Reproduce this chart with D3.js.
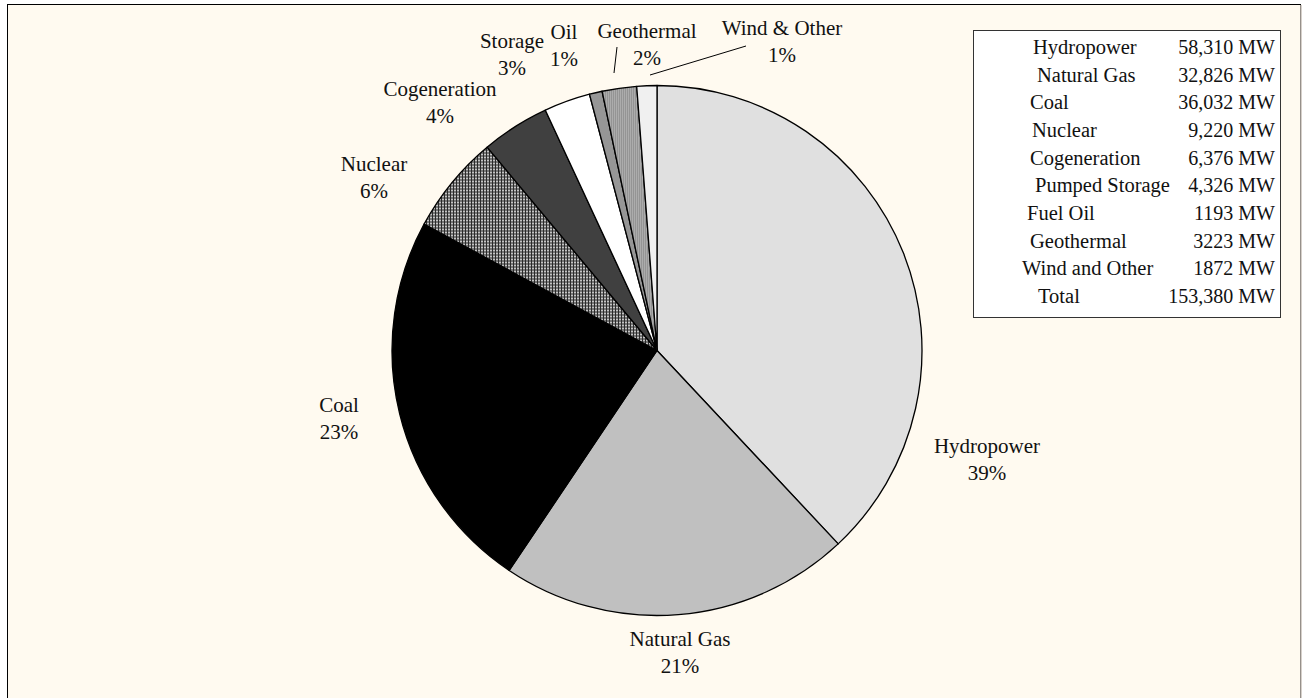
<!DOCTYPE html>
<html>
<head>
<meta charset="utf-8">
<script src="https://cdn.jsdelivr.net/npm/d3@7"></script>
<style>
  html, body { margin: 0; padding: 0; background: #ffffff; }
  svg { display: block; }
  text { font-family: "Liberation Serif", "Times New Roman", serif; fill: #111; }
</style>
</head>
<body>
<svg id="chart" width="1302" height="698"></svg>
<script>
// ---- data ----
const categories = ["Hydropower", "Natural Gas", "Coal", "Nuclear", "Cogeneration",
                    "Pumped Storage", "Fuel Oil", "Geothermal", "Wind and Other"];
const capacityMW = [58310, 32826, 36032, 9220, 6376, 4326, 1193, 3223, 1872];
const sliceLabels = ["Hydropower", "Natural Gas", "Coal", "Nuclear", "Cogeneration",
                     "Storage", "Oil", "Geothermal", "Wind & Other"];
const percentLabels = ["39%", "21%", "23%", "6%", "4%", "3%", "1%", "2%", "1%"];
const legendValueLabels = ["58,310 MW", "32,826 MW", "36,032 MW", "9,220 MW", "6,376 MW",
                           "4,326 MW", "1193 MW", "3223 MW", "1872 MW"];
const totalLabel = "Total";
const totalValueLabel = "153,380 MW";

// ---- styles / layout ----
const fills = ["#e0e0e0", "#c0c0c0", "#000000", "url(#crosshatch)", "#404040",
               "#ffffff", "#969696", "url(#dots)", "#f0f0f0"];
const cx = 657, cy = 350.5, radius = 265;
// label anchor offsets from pie centre: [dx, dy of first baseline]
const labelOffsets = [[330, 102.5], [23, 295.5], [-318, 61.5], [-283, -179.5], [-217, -254.5],
                      [-145, -302.5], [-93, -311.5], [-10, -312.5], [125, -315.5]];
// leader lines (offsets from centre) for geothermal and wind
const leaders = [
  {i: 7, from: [-40, -303.5], to: [-43, -277.5]},
  {i: 8, from: [89, -304.5], to: [-7, -275.5]}
];
// small indents of the legend name column (as in the source table)
const legendNameX = [1033, 1037, 1030, 1032, 1030, 1035, 1027, 1030, 1022, 1038];

const svg = d3.select("#chart");
const defs = svg.append("defs");
const ch = defs.append("pattern").attr("id", "crosshatch").attr("patternUnits", "userSpaceOnUse")
  .attr("width", 3).attr("height", 3);
ch.append("rect").attr("width", 3).attr("height", 3).attr("fill", "#c4c4c4");
ch.append("rect").attr("width", 1).attr("height", 3).attr("fill", "#2a2a2a");
ch.append("rect").attr("width", 3).attr("height", 1).attr("fill", "#2a2a2a");
const dp = defs.append("pattern").attr("id", "dots").attr("patternUnits", "userSpaceOnUse")
  .attr("width", 2).attr("height", 2);
dp.append("rect").attr("width", 2).attr("height", 2).attr("fill", "#acacac");
dp.append("rect").attr("width", 1).attr("height", 1).attr("fill", "#7c7c7c");

// chart area background + frame
svg.append("rect").attr("x", 7.5).attr("y", 4.5).attr("width", 1293).attr("height", 700)
  .attr("fill", "#fffaf0").attr("stroke", "#000").attr("stroke-width", 1);
svg.append("line").attr("x1", 1301).attr("x2", 1301).attr("y1", 5).attr("y2", 698)
  .attr("stroke", "#c8c0b8").attr("stroke-width", 1.5);

// pie
const pie = d3.pie().sort(null).value(d => d).startAngle(0).endAngle(2 * Math.PI);
const arc = d3.arc().innerRadius(0).outerRadius(radius);
const arcs = pie(capacityMW);
const g = svg.append("g").attr("transform", `translate(${cx},${cy})`);
g.selectAll("path.slice").data(arcs).enter().append("path")
  .attr("class", "slice")
  .attr("d", arc)
  .attr("fill", (d, i) => fills[i])
  .attr("stroke", "#000")
  .attr("stroke-width", 1.3)
  .attr("stroke-linejoin", "round");

// slice labels
const lg = g.selectAll("g.lbl").data(arcs).enter().append("g").attr("class", "lbl")
  .attr("transform", (d, i) => `translate(${labelOffsets[i][0]},${labelOffsets[i][1]})`);
lg.append("text").attr("text-anchor", "middle").attr("font-size", 21)
  .text((d, i) => sliceLabels[i]);
lg.append("text").attr("text-anchor", "middle").attr("font-size", 21).attr("y", 26.5)
  .text((d, i) => percentLabels[i]);

// leader lines
g.selectAll("line.leader").data(leaders).enter().append("line")
  .attr("class", "leader")
  .attr("x1", d => d.from[0]).attr("y1", d => d.from[1])
  .attr("x2", d => d.to[0]).attr("y2", d => d.to[1])
  .attr("stroke", "#000").attr("stroke-width", 1);

// legend table
const legX = 973.5, legY = 30.5, legW = 307, legH = 287;
svg.append("rect").attr("x", legX).attr("y", legY).attr("width", legW).attr("height", legH)
  .attr("fill", "#ffffff").attr("stroke", "#333").attr("stroke-width", 1);
const rowNames = categories.concat([totalLabel]);
const rowValues = legendValueLabels.concat([totalValueLabel]);
const rowY = d3.scalePoint().domain(d3.range(rowNames.length)).range([54, 303]);
svg.selectAll("text.lname").data(rowNames).enter().append("text")
  .attr("class", "lname").attr("x", (d, i) => legendNameX[i]).attr("y", (d, i) => rowY(i))
  .attr("font-size", 20.5).text(d => d);
svg.selectAll("text.lval").data(rowValues).enter().append("text")
  .attr("class", "lval").attr("x", 1275).attr("y", (d, i) => rowY(i))
  .attr("text-anchor", "end").attr("font-size", 20).text(d => d);
</script>
</body>
</html>
